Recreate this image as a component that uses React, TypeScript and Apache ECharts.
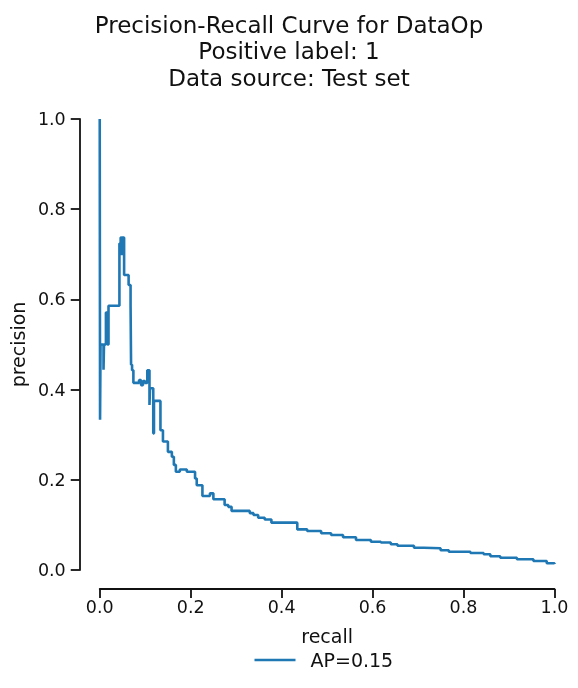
import React, { useEffect, useRef } from 'react';
import * as echarts from 'echarts';

const recall = [0, 0.0007, 0.0018, 0.0083, 0.0094, 0.0136, 0.0171, 0.0193, 0.0433, 0.046, 0.0481, 0.0492, 0.0536, 0.0635, 0.0678, 0.0689, 0.0711, 0.074, 0.0864, 0.0908, 0.0952, 0.0996, 0.1046, 0.1094, 0.1105, 0.1177, 0.1193, 0.1335, 0.139, 0.1499, 0.1586, 0.163, 0.1674, 0.1761, 0.1915, 0.2096, 0.2133, 0.2258, 0.2424, 0.2499, 0.2746, 0.2827, 0.2899, 0.33, 0.3381, 0.3484, 0.3628, 0.3775, 0.4344, 0.4562, 0.4869, 0.5088, 0.535, 0.5635, 0.5963, 0.6182, 0.64, 0.6547, 0.691, 0.7129, 0.7495, 0.7676, 0.8151, 0.8442, 0.8589, 0.8807, 0.9173, 0.9536, 0.9829, 1.0];
const precision = [1.0, 0.333, 0.5, 0.444, 0.5, 0.571, 0.5, 0.586, 0.724, 0.737, 0.698, 0.737, 0.654, 0.632, 0.588, 0.455, 0.443, 0.415, 0.421, 0.41, 0.419, 0.415, 0.443, 0.366, 0.403, 0.303, 0.375, 0.31, 0.285, 0.262, 0.251, 0.233, 0.218, 0.223, 0.218, 0.203, 0.188, 0.164, 0.17, 0.157, 0.144, 0.14, 0.131, 0.126, 0.122, 0.116, 0.112, 0.105, 0.09, 0.0865, 0.0814, 0.0776, 0.0725, 0.0665, 0.0628, 0.061, 0.057, 0.0539, 0.0494, 0.0481, 0.0437, 0.0406, 0.0377, 0.0348, 0.0304, 0.0273, 0.0237, 0.02, 0.0149, 0.0133];
const titleLines = ['Precision-Recall Curve for DataOp', 'Positive label: 1', 'Data source: Test set'];
const seriesName = 'AP=0.15';
const xName = 'recall';
const yName = 'precision';

export default function App() {
  const ref = useRef<HTMLDivElement>(null);
  useEffect(() => {
    const chart = echarts.init(ref.current!, null, { renderer: 'svg' });
    const font = 'DejaVu Sans';
    const ink = '#111111';
    const axisCommon = {
      type: 'value',
      min: 0,
      max: 1,
      interval: 0.2,
      splitLine: { show: false },
      axisLine: { show: true, onZero: false, lineStyle: { color: ink, width: 1.8 } },
      axisTick: { show: true, length: 9, lineStyle: { color: ink, width: 1.8 } },
      nameLocation: 'middle',
      nameTextStyle: { fontSize: 19, color: ink, fontFamily: font },
    };
    chart.setOption({
      animation: false,
      textStyle: { fontFamily: font },
      title: {
        text: titleLines.join('\n'),
        left: 'center',
        top: 6.5,
        textStyle: { fontSize: 23, lineHeight: 26.5, fontWeight: 'normal', color: ink, fontFamily: font },
      },
      grid: { left: 97.5, right: 23.5, top: 119, bottom: 118, containLabel: false },
      legend: {
        data: [seriesName],
        left: 254.5,
        top: 649,
        padding: 0,
        icon: 'rect',
        itemWidth: 41,
        itemHeight: 2.6,
        textStyle: { fontSize: 19, color: ink, lineHeight: 22, fontFamily: font, padding: [0, 0, 0, 10] },
      },
      xAxis: {
        ...axisCommon,
        name: xName,
        nameGap: 37,
        offset: 19,
        axisLabel: { fontSize: 17.5, color: ink, margin: 9, fontFamily: font, formatter: (v: number) => v.toFixed(1) },
      },
      yAxis: {
        ...axisCommon,
        name: yName,
        nameGap: 48,
        offset: 20,
        axisLabel: { fontSize: 17.5, color: ink, margin: 14, fontFamily: font, formatter: (v: number) => v.toFixed(1) },
      },
      series: [
        {
          type: 'line',
          name: seriesName,
          data: recall.map((r, i) => [r, precision[i]]),
          step: 'end',
          showSymbol: false,
          clip: false,
          lineStyle: { color: '#1f77b4', width: 2.6 },
          itemStyle: { color: '#1f77b4' },
        },
      ],
    });
    return () => chart.dispose();
  }, []);
  return <div ref={ref} style={{ position: 'fixed', left: 0, top: 0, width: 578, height: 688 }} />;
}
